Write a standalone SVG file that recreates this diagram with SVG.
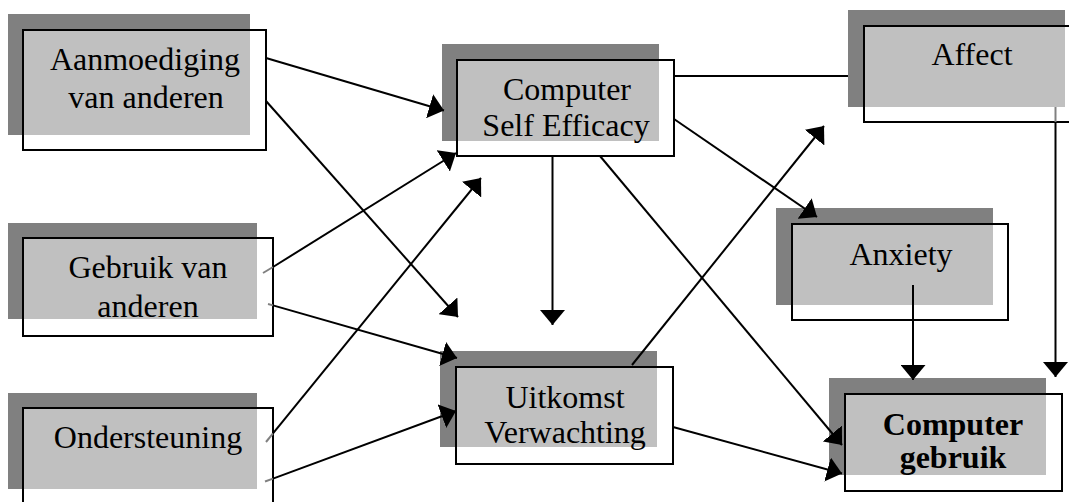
<svg xmlns="http://www.w3.org/2000/svg" width="1069" height="502" viewBox="0 0 1069 502">
  <style>
    .shadow { fill: #808080; }
    .frame { fill: #ffffff; stroke: none; }
    .fill { fill: #c0c0c0; }
    .edge { fill: none; stroke: #000000; stroke-width: 2; }
    .label { font-family: "Liberation Serif", "Times New Roman", serif; font-size: 32px; fill: #000000; text-anchor: middle; }
    .bold { font-weight: bold; }
    .link { stroke: #000000; stroke-width: 2; fill: none; }
    .arrow { marker-end: url(#head); }
    .tail { stroke: #808080; stroke-width: 2; fill: none; }
  </style>
  <defs>
    <marker id="head" markerUnits="userSpaceOnUse" markerWidth="15" markerHeight="25" viewBox="0 0 15 25" refX="15" refY="12.5" orient="auto">
      <path d="M0,0 L15,12.5 L0,25 Z" fill="#000000"/>
    </marker>
  </defs>

  <rect width="1069" height="502" fill="#ffffff"/>

  <!-- nodes: dark drop shadow, white frame, grey fill, black edge -->
  <g id="aanmoediging">
    <rect class="shadow" x="8" y="14" width="242" height="121"/>
    <rect class="frame" x="23" y="30" width="243" height="120"/>
    <rect class="fill" x="23" y="30" width="227" height="105"/>
    <rect class="edge" x="23" y="30" width="243" height="120"/>
    <text class="label" x="145" y="70">Aanmoediging</text>
    <text class="label" x="146" y="108">van anderen</text>
  </g>

  <g id="gebruik-anderen">
    <rect class="shadow" x="8" y="223" width="249" height="96"/>
    <rect class="frame" x="23" y="238" width="250" height="98"/>
    <rect class="fill" x="23" y="238" width="234" height="81"/>
    <rect class="edge" x="23" y="238" width="250" height="98"/>
    <text class="label" x="148" y="278">Gebruik van</text>
    <text class="label" x="148" y="317">anderen</text>
  </g>

  <g id="ondersteuning">
    <rect class="shadow" x="8" y="393" width="249" height="96"/>
    <rect class="frame" x="23" y="408" width="250" height="120"/>
    <rect class="fill" x="23" y="408" width="234" height="81"/>
    <rect class="edge" x="23" y="408" width="250" height="120"/>
    <text class="label" x="148" y="448">Ondersteuning</text>
  </g>

  <g id="self-efficacy">
    <rect class="shadow" x="442" y="44" width="217" height="97"/>
    <rect class="frame" x="457" y="60" width="217" height="96"/>
    <rect class="fill" x="457" y="60" width="202" height="81"/>
    <rect class="edge" x="457" y="60" width="217" height="96"/>
    <text class="label" x="567" y="100">Computer</text>
    <text class="label" x="566" y="136">Self Efficacy</text>
  </g>

  <g id="uitkomst">
    <rect class="shadow" x="440" y="351" width="217" height="96"/>
    <rect class="frame" x="456" y="367" width="217" height="97"/>
    <rect class="fill" x="456" y="367" width="201" height="80"/>
    <rect class="edge" x="456" y="367" width="217" height="97"/>
    <text class="label" x="565" y="408">Uitkomst</text>
    <text class="label" x="565" y="443">Verwachting</text>
  </g>

  <g id="affect">
    <rect class="shadow" x="848" y="10" width="217" height="97"/>
    <rect class="frame" x="864" y="26" width="216" height="96"/>
    <rect class="fill" x="864" y="26" width="201" height="81"/>
    <rect class="edge" x="864" y="26" width="216" height="96"/>
    <text class="label" x="972" y="65">Affect</text>
  </g>

  <g id="anxiety">
    <rect class="shadow" x="776" y="208" width="217" height="97"/>
    <rect class="frame" x="792" y="224" width="216" height="96"/>
    <rect class="fill" x="792" y="224" width="201" height="81"/>
    <rect class="edge" x="792" y="224" width="216" height="96"/>
    <text class="label" x="901" y="265">Anxiety</text>
  </g>

  <g id="computer-gebruik">
    <rect class="shadow" x="829" y="378" width="217" height="97"/>
    <rect class="frame" x="845" y="394" width="217" height="97"/>
    <rect class="fill" x="845" y="394" width="201" height="81"/>
    <rect class="edge" x="845" y="394" width="217" height="97"/>
    <text class="label bold" x="953" y="435">Computer</text>
    <text class="label bold" x="953" y="468">gebruik</text>
  </g>

  <!-- connectors -->
  <g id="connectors">
    <!-- line segments that begin inside a frame -->
    <line class="tail" x1="263" y1="273" x2="273" y2="267"/>
    <line class="tail" x1="268" y1="304" x2="273" y2="305.4"/>
    <line class="tail" x1="266" y1="442" x2="273" y2="433.4"/>
    <line class="tail" x1="265" y1="481.5" x2="273" y2="478.6"/>
    <line class="tail" x1="1055.5" y1="107" x2="1055.5" y2="122"/>

    <line class="link arrow" x1="266" y1="58" x2="444" y2="110.5"/>
    <line class="link arrow" x1="266" y1="101" x2="458" y2="317"/>
    <line class="link arrow" x1="273" y1="267" x2="456" y2="153"/>
    <line class="link arrow" x1="273" y1="305.4" x2="457" y2="358"/>
    <line class="link arrow" x1="273" y1="433.4" x2="481" y2="178"/>
    <line class="link arrow" x1="273" y1="478.6" x2="456" y2="411"/>
    <line class="link arrow" x1="552.5" y1="156" x2="552.5" y2="325"/>
    <line class="link arrow" x1="600" y1="156" x2="842" y2="445"/>
    <line class="link arrow" x1="673" y1="427" x2="842" y2="473.5"/>
    <line class="link arrow" x1="632" y1="365" x2="824" y2="126"/>
    <line class="link" x1="674" y1="76" x2="848" y2="76"/>
    <line class="link arrow" x1="674" y1="119" x2="817" y2="217"/>
    <line class="link arrow" x1="913" y1="285" x2="913" y2="380"/>
    <line class="link arrow" x1="1055.5" y1="122" x2="1055.5" y2="377"/>
  </g>
</svg>
